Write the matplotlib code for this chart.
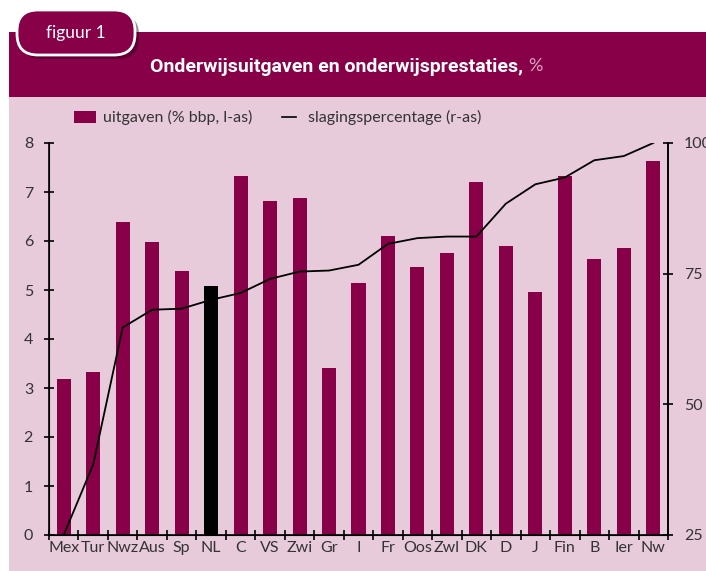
import matplotlib
matplotlib.use('Agg')
import matplotlib.pyplot as plt
from matplotlib.patches import Rectangle, FancyBboxPatch
from matplotlib.lines import Line2D
import numpy as np

# data
landen = ['Mex', 'Tur', 'Nwz', 'Aus', 'Sp', 'NL', 'C', 'VS', 'Zwi', 'Gr', 'I',
          'Fr', 'Oos', 'Zwl', 'DK', 'D', 'J', 'Fin', 'B', 'Ier', 'Nw']
uitgaven = [3.18, 3.33, 6.39, 5.98, 5.39, 5.08, 7.33, 6.82, 6.88, 3.41, 5.14,
            6.10, 5.47, 5.76, 7.20, 5.90, 4.96, 7.33, 5.63, 5.86, 7.63]
slaging = [25.0, 38.5, 64.7, 68.1, 68.3, 70.0, 71.3, 74.0, 75.4, 75.6, 76.7,
           80.7, 81.8, 82.1, 82.1, 88.4, 92.1, 93.4, 96.7, 97.5, 100.0]

paars = '#880048'
roze = '#E8CBDB'

plt.rcParams['font.family'] = ['Lato', 'DejaVu Sans']

fig = plt.figure(figsize=(7.06, 5.71), dpi=100)

# achtergrond in pixelcoordinaten
bg = fig.add_axes([0, 0, 1, 1], zorder=0)
bg.set_xlim(0, 706)
bg.set_ylim(571, 0)
bg.axis('off')
bg.add_patch(Rectangle((9, 97), 700, 480, color=roze, lw=0))
bg.add_patch(Rectangle((9, 32), 700, 65, color=paars, lw=0))
# tabblad 'figuur 1' met schaduw
bg.add_patch(FancyBboxPatch((21, 14), 118, 45, boxstyle='round,pad=0,rounding_size=21',
                            fc='#2a0015', ec='none', alpha=0.45))
bg.add_patch(FancyBboxPatch((17, 10), 118, 45, boxstyle='round,pad=0,rounding_size=21',
                            fc=paars, ec='white', lw=2))
bg.text(76, 33, 'figuur 1', color='white', fontsize=12.5, ha='center', va='center')
bg.text(150, 67, 'Onderwijsuitgaven en onderwijsprestaties,', color='white',
        fontsize=14, fontweight='bold', ha='left', va='center',
        family=['Roboto', 'DejaVu Sans'])
bg.text(528, 66, '%', color='#d9a6c0', fontsize=13, ha='left', va='center')

# legenda
bg.add_patch(Rectangle((74, 111), 22, 12, color=paars, lw=0))
bg.text(103, 117, 'uitgaven (% bbp, l-as)', fontsize=11.5, color='#333333',
        ha='left', va='center')
bg.add_line(Line2D([282, 296], [117, 117], color='black', lw=1.2))
bg.text(308, 117, 'slagingspercentage (r-as)', fontsize=11.5, color='#333333',
        ha='left', va='center')

# hoofdgrafiek
ax = fig.add_axes([49 / 706, 36 / 571, 619 / 706, 392 / 571], zorder=2)
ax.patch.set_alpha(0)
x = np.arange(len(landen))
kleuren = ['black' if l == 'NL' else paars for l in landen]
ax.bar(x, uitgaven, width=0.475, color=kleuren, zorder=2)
ax.set_xlim(-0.5, len(landen) - 0.5)
ax.set_ylim(0, 8)
ax.set_yticks(range(0, 9))
ax.set_xticks(np.arange(-0.5, len(landen), 1))
ax.set_xticklabels([])
ax.set_xticks(x, minor=True)
ax.set_xticklabels(landen, minor=True)
ax.tick_params(axis='x', which='minor', length=0, pad=4, labelsize=11.5,
               labelcolor='#333333')
ax.tick_params(axis='x', which='major', direction='inout', length=7, width=1.2)
ax.tick_params(axis='y', direction='inout', length=7, width=1.2, labelsize=11.5,
               labelcolor='#333333', pad=8)
ax.spines['top'].set_visible(False)
for s in ['left', 'bottom', 'right']:
    ax.spines[s].set_linewidth(1.2)

ax2 = ax.twinx()
ax2.plot(x, slaging, color='black', lw=1.3, zorder=3)
ax2.set_ylim(25, 100)
ax2.set_yticks([25, 50, 75, 100])
ax2.tick_params(axis='y', direction='inout', length=7, width=1.2, labelsize=11.5,
                labelcolor='#333333', pad=8)
ax2.spines['top'].set_visible(False)
ax2.spines['right'].set_linewidth(1.2)

fig.savefig('out.png', dpi=100)
